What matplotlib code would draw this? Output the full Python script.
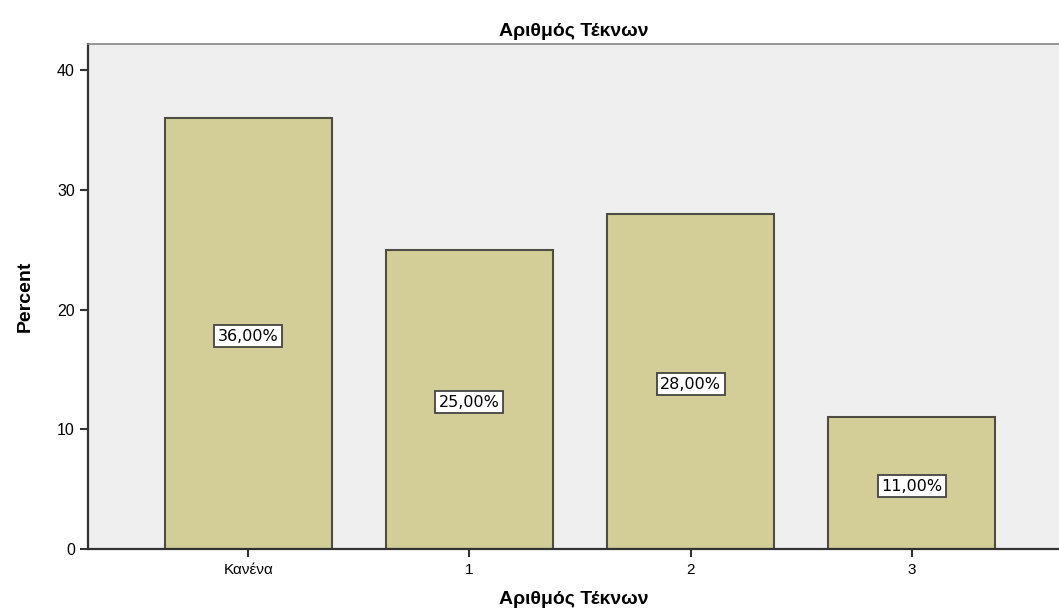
import matplotlib
matplotlib.use("Agg")
import matplotlib.pyplot as plt

plt.rcParams["font.family"] = ["Liberation Sans", "DejaVu Sans"]

categories = ["Κανένα", "1", "2", "3"]
percent = [36.0, 25.0, 28.0, 11.0]
labels = ["36,00%", "25,00%", "28,00%", "11,00%"]
yticks = [0, 10, 20, 30, 40]

fig = plt.figure(figsize=(10.59, 6.08), dpi=100)
ax = fig.add_axes([0.0831, 0.097, 0.9169, 0.8306])
ax.set_facecolor("#efefef")

x = list(range(len(categories)))
ax.bar(x, percent, width=0.755, color="#d3ce98", edgecolor="#4d4d44", linewidth=1.5, zorder=2)

# value boxes sit at half bar height, like SPSS data labels
for xi, v, lab in zip(x, percent, labels):
    ax.text(xi, v / 2 - 0.25, lab, ha="center", va="center", fontsize=11.5, family="DejaVu Sans",
            zorder=3, bbox=dict(boxstyle="square,pad=0.22", fc="white", ec="#444444", lw=1.3))

ax.set_xlim(-0.724, 3.665)
ax.set_ylim(0, 42.17)
ax.set_xticks(x)
ax.set_xticklabels(categories, fontsize=11, family=["Liberation Sans Narrow", "Liberation Sans"])
ax.set_yticks(yticks)
ax.set_yticklabels([str(t) for t in yticks], fontsize=11.5)
ax.tick_params(axis="both", length=6, width=1.5, color="#333333")
ax.tick_params(axis="x", pad=4)

for side in ("left", "bottom"):
    ax.spines[side].set_color("#333333")
    ax.spines[side].set_linewidth(1.6)
ax.spines["top"].set_color("#888888")
ax.spines["top"].set_linewidth(1.2)
ax.spines["right"].set_visible(False)

ax.set_title("Αριθμός Τέκνων", fontsize=14, fontweight="bold", pad=6)
ax.set_xlabel("Αριθμός Τέκνων", fontsize=14, fontweight="bold", labelpad=10)
ax.set_ylabel("Percent", fontsize=14, fontweight="bold",
              family=["Liberation Sans Narrow", "Liberation Sans"], labelpad=17)

fig.savefig("out.png", dpi=100)
